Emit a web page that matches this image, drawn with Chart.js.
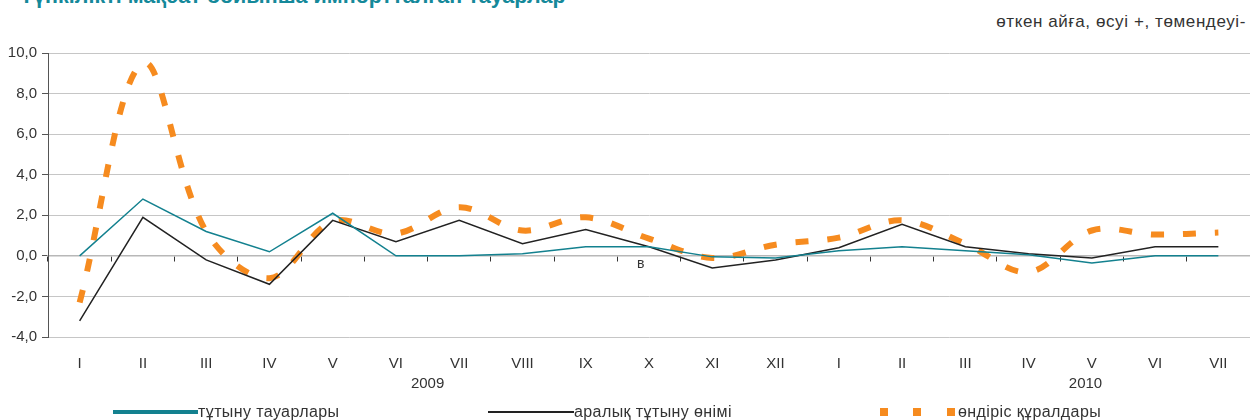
<!DOCTYPE html>
<html>
<head>
<meta charset="utf-8">
<script src="https://cdn.jsdelivr.net/npm/chart.js@4"></script>
<style>
  html, body { margin: 0; padding: 0; background: #fff; }
  body { width: 1250px; height: 420px; position: relative; overflow: hidden; font-family: "Liberation Sans", Arial, sans-serif; color: #333; }
  #title { position: absolute; left: 20px; top: -14px; font-size: 21.5px; line-height: 20px; font-weight: bold; color: #15899a; white-space: nowrap; }
  #subtitle { position: absolute; right: 4px; top: 12px; font-size: 17px; letter-spacing: 0.6px; line-height: 20px; white-space: nowrap; }
  canvas { position: absolute; left: 0; top: 0; }
  .lg { position: absolute; top: 403px; font-size: 16px; letter-spacing: 0.4px; line-height: 18px; white-space: nowrap; }
  .sw { position: absolute; }
</style>
</head>
<body>
<div id="title">Түпкілікті мақсат бойынша импортталған тауарлар</div>
<div id="subtitle">өткен айға, өсуі +, төмендеуі-</div>
<canvas id="chart" width="1250" height="420"></canvas>
<div class="sw" style="left:113px; top:410px; width:85px; height:4px; background:#13818f;"></div>
<div class="lg" style="left:198px;">тұтыну тауарлары</div>
<div class="sw" style="left:488px; top:411px; width:86px; height:1.5px; background:#222;"></div>
<div class="lg" style="left:574px;">аралық тұтыну өнімі</div>
<div class="sw" style="left:880px; top:408px; width:8px; height:8px; background:#f68b1f;"></div>
<div class="sw" style="left:913px; top:408px; width:8px; height:8px; background:#f68b1f;"></div>
<div class="sw" style="left:947px; top:408px; width:8px; height:8px; background:#f68b1f;"></div>
<div class="lg" style="left:958px;">өндіріс құралдары</div>
<script>
  // months 2009 I..XII, 2010 I..VII
  const months = ['I', 'II', 'III', 'IV', 'V', 'VI', 'VII', 'VIII', 'IX', 'X', 'XI', 'XII',
                  'I', 'II', 'III', 'IV', 'V', 'VI', 'VII'];
  const years = ['2009', '2010'];

  const consumerGoods = [0.0, 2.8, 1.2, 0.2, 2.1, 0.0, 0.0, 0.1, 0.45, 0.45, -0.05, -0.1,
                         0.25, 0.45, 0.25, 0.05, -0.35, 0.0, 0.0];
  const intermediateGoods = [-3.2, 1.9, -0.2, -1.4, 1.75, 0.7, 1.75, 0.6, 1.3, 0.45, -0.6, -0.2,
                             0.4, 1.55, 0.45, 0.1, -0.1, 0.45, 0.45];
  const capitalGoods = [-2.3, 9.5, 1.2, -1.1, 1.7, 1.1, 2.4, 1.25, 1.9, 0.85, -0.1, 0.55,
                        0.9, 1.75, 0.6, -0.8, 1.25, 1.05, 1.15];

  const yTicks = { min: -4, max: 10, step: 2 };

  const fontFamily = '"Liberation Sans", Arial, sans-serif';

  // year captions under the month labels + the stray "в" mark
  const extraText = {
    id: 'extraText',
    afterDraw(chart) {
      const c = chart.ctx;
      const x = chart.scales.x;
      const y = chart.scales.y;
      c.save();
      c.fillStyle = '#333';
      c.font = '15px ' + fontFamily;
      c.textAlign = 'center';
      c.textBaseline = 'middle';
      c.fillText(years[0], (x.getPixelForValue(0) + x.getPixelForValue(11)) / 2, 384);
      c.fillText(years[1], x.getPixelForValue(15.9), 384);
      c.font = '14px ' + fontFamily;
      c.fillText('в', x.getPixelForValue(8.87), y.getPixelForValue(-0.4));
      c.restore();
    }
  };

  new Chart(document.getElementById('chart'), {
    type: 'line',
    data: {
      labels: months,
      datasets: [
        {
          label: 'тұтыну тауарлары',
          data: consumerGoods,
          borderColor: '#13818f',
          borderWidth: 1.5,
          pointRadius: 0,
          tension: 0,
        },
        {
          label: 'аралық тұтыну өнімі',
          data: intermediateGoods,
          borderColor: '#222',
          borderWidth: 1.5,
          pointRadius: 0,
          tension: 0,
        },
        {
          label: 'өндіріс құралдары',
          data: capitalGoods,
          borderColor: '#f68b1f',
          borderWidth: 6,
          borderDash: [13, 19],
          borderCapStyle: 'butt',
          pointRadius: 0,
          tension: 0.35,
        },
      ],
    },
    options: {
      responsive: false,
      animation: false,
      layout: { padding: { top: 53, right: 0, left: 0, bottom: 0 } },
      plugins: {
        legend: { display: false },
        tooltip: { enabled: false },
      },
      scales: {
        x: {
          offset: true,
          grid: { display: false },
          border: { display: false },
          ticks: {
            color: '#333',
            font: { size: 15, family: fontFamily },
            padding: 10,
            maxRotation: 0,
            autoSkip: false,
          },
          afterFit: (s) => { s.height = 83; },
        },
        x0: {
          type: 'category',
          labels: months,
          position: { y: 0 },
          offset: true,
          grid: {
            offset: true,
            drawOnChartArea: false,
            tickLength: 5,
            tickColor: '#333',
          },
          border: { display: true, color: '#b8b8b8', width: 1.5 },
          ticks: { display: false },
        },
        y: {
          min: yTicks.min,
          max: yTicks.max,
          grid: {
            color: '#c6c6c6',
            tickColor: '#555',
            tickLength: 6,
          },
          border: { display: true, color: '#555' },
          ticks: {
            stepSize: yTicks.step,
            color: '#333',
            font: { size: 15, family: fontFamily },
            padding: 5,
            callback: (v) => v.toFixed(1).replace('.', ','),
          },
          afterFit: (s) => { s.width = 48; },
        },
      },
    },
    plugins: [extraText],
  });
</script>
</body>
</html>
